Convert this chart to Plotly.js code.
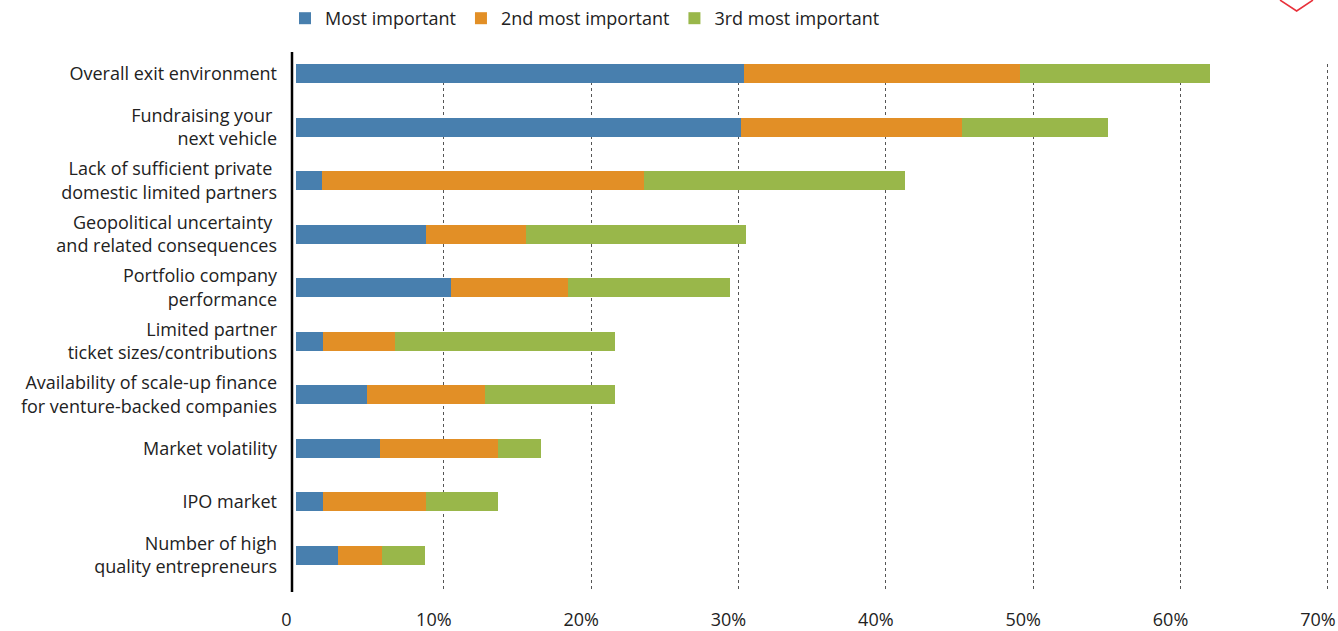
<!DOCTYPE html>
<html>
<head>
<meta charset="utf-8">
<script src="https://cdn.plot.ly/plotly-3.0.1.min.js"></script>
<style>html,body{margin:0;padding:0;background:#fff;}#chart{width:1338px;height:631px;}</style>
</head>
<body>
<div id="chart"></div>
<script>
var categories = [
  "Overall exit environment",
  "Fundraising your\u00a0<br>next vehicle",
  "Lack of sufficient private\u00a0<br>domestic limited partners",
  "Geopolitical uncertainty\u00a0<br>and related consequences",
  "Portfolio company<br>performance",
  "Limited partner<br>ticket sizes/contributions",
  "Availability of scale-up finance<br>for venture-backed companies",
  "Market volatility",
  "IPO market",
  "Number of high<br>quality entrepreneurs"
];
var mostImportant   = [30.4, 30.2, 1.7, 8.8, 10.5, 1.8, 4.8, 5.7, 1.8, 2.8];
var secondImportant = [18.7, 15.0, 21.9, 6.8, 7.9, 4.9, 8.0, 8.0, 7.0, 3.0];
var thirdImportant  = [12.9, 9.9, 17.7, 14.9, 11.0, 14.9, 8.8, 2.9, 4.9, 2.9];
var seriesNames = ["Most important", "2nd most important", "3rd most important"];
var gridVals = [10, 20, 30, 40, 50, 60, 70];
var tickVals = [0, 10, 20, 30, 40, 50, 60, 70];
var tickText = ["0", "10%", "20%", "30%", "40%", "50%", "60%", "70%"];

var colors = ["#487FAE", "#E28F26", "#99B74A"];
var FONT = "'Open Sans', 'Noto Sans', sans-serif";
var FS = 18;
var barW = 0.355;

function mk(vals, i) {
  return {
    type: "bar", orientation: "h",
    x: vals, y: categories, name: seriesNames[i],
    marker: {color: colors[i], line: {width: 0}},
    width: barW, hoverinfo: "x+name"
  };
}
var data = [mk(mostImportant, 0), mk(secondImportant, 1), mk(thirdImportant, 2)];
data.push({type: "scatter", x: [0, 70], y: [categories[0], categories[0]], xaxis: "x2", mode: "markers",
  marker: {opacity: 0}, showlegend: false, hoverinfo: "skip"});

var xr = [-0.305, 70.28];
var layout = {
  width: 1338, height: 631,
  margin: {l: 292, r: 6, t: 64, b: 39, pad: 0},
  paper_bgcolor: "#fff", plot_bgcolor: "#fff",
  font: {family: FONT, size: FS, color: "#222"},
  barmode: "stack",
  showlegend: true,
  legend: {
    orientation: "h", traceorder: "normal",
    xref: "container", yref: "container",
    x: 0.213, xanchor: "left", y: 1.0, yanchor: "top",
    font: {family: FONT, size: FS, color: "#222"},
    bgcolor: "rgba(0,0,0,0)"
  },
  xaxis: {
    range: xr, tickvals: gridVals, showticklabels: false,
    showgrid: true, gridcolor: "#555", gridwidth: 1, griddash: "dot",
    zeroline: false, showline: false, ticks: "", fixedrange: true
  },
  xaxis2: {
    overlaying: "x", anchor: "y", side: "bottom", range: xr,
    tickvals: tickVals, ticktext: tickText, showgrid: false, zeroline: false,
    showline: false, ticks: "", ticklabelshift: -10, ticklabelstandoff: 15,
    tickfont: {family: FONT, size: FS, color: "#222"}
  },
  yaxis: {
    type: "category", categoryorder: "array", categoryarray: categories,
    range: [9.686, -0.1775], showgrid: false, zeroline: false, showline: false,
    ticks: "", ticklabelstandoff: 14,
    tickfont: {family: FONT, size: FS, color: "#222"}
  },
  shapes: [
    {type: "line", xref: "paper", yref: "paper", x0: 0, x1: 0, y0: 0, y1: 1.0227,
     line: {color: "#000", width: 2.5}},
    {type: "path", xref: "paper", yref: "paper",
     path: "M 0.95 1.1212 L 0.966 1.1004 L 0.9817 1.1212",
     line: {color: "#E8303A", width: 1.5}}
  ]
};
Plotly.newPlot("chart", data, layout, {displayModeBar: false, responsive: false});
</script>
</body>
</html>
